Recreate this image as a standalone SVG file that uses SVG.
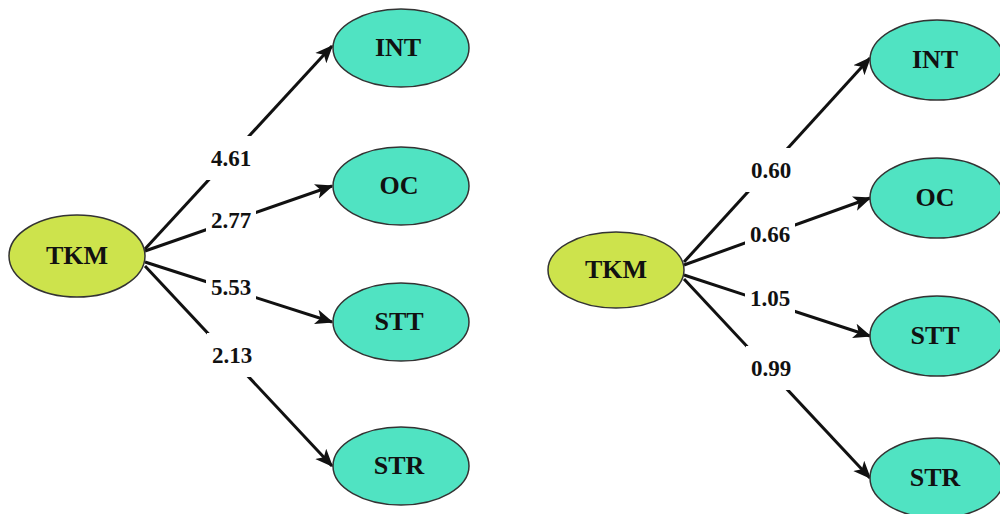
<svg xmlns="http://www.w3.org/2000/svg" width="1000" height="514" viewBox="0 0 1000 514">
<style>
.src{fill:#cde34c;stroke:#333;stroke-width:1.5}
.dst{fill:#50e3c2;stroke:#333;stroke-width:1.5}
.nt{font-family:"Liberation Serif","Times New Roman",serif;font-weight:bold;font-size:26px;text-anchor:middle;fill:#111}
.e{stroke:#111;stroke-width:3;fill:none}
.lb{font-family:"Liberation Serif","Times New Roman",serif;font-weight:bold;font-size:23px;text-anchor:middle;fill:#111}
.bg{fill:#fff}
</style>
<defs>
<marker id="ah" viewBox="0 0 12 10" refX="11" refY="5" markerWidth="6" markerHeight="6" orient="auto" markerUnits="strokeWidth">
<path d="M0,0 L12,5 L0,10 L3,5 z" fill="#111"/>
</marker>
</defs>
<g id="connectors">
<line class="e" x1="145" y1="249" x2="332" y2="46" marker-end="url(#ah)"/>
<line class="e" x1="145" y1="251" x2="332" y2="186" marker-end="url(#ah)"/>
<line class="e" x1="145" y1="262" x2="332" y2="322" marker-end="url(#ah)"/>
<line class="e" x1="145" y1="266" x2="332" y2="466" marker-end="url(#ah)"/>
<line class="e" x1="684" y1="262" x2="870" y2="58" marker-end="url(#ah)"/>
<line class="e" x1="684" y1="265" x2="870" y2="198" marker-end="url(#ah)"/>
<line class="e" x1="684" y1="275" x2="870" y2="336" marker-end="url(#ah)"/>
<line class="e" x1="684" y1="279" x2="870" y2="478" marker-end="url(#ah)"/>
<rect class="bg" x="206" y="136" width="50" height="44"/>
<text class="lb" x="231" y="166">4.61</text>
<rect class="bg" x="206" y="199" width="50" height="44"/>
<text class="lb" x="231" y="228">2.77</text>
<rect class="bg" x="206" y="266" width="50" height="44"/>
<text class="lb" x="231" y="295">5.53</text>
<rect class="bg" x="207" y="333" width="50" height="44"/>
<text class="lb" x="232" y="363">2.13</text>
<rect class="bg" x="746" y="148" width="50" height="44"/>
<text class="lb" x="771" y="178">0.60</text>
<rect class="bg" x="745" y="212" width="50" height="44"/>
<text class="lb" x="770" y="242">0.66</text>
<rect class="bg" x="745" y="278" width="50" height="44"/>
<text class="lb" x="770" y="306">1.05</text>
<rect class="bg" x="746" y="346" width="50" height="44"/>
<text class="lb" x="771" y="376">0.99</text>
</g>
<g id="tkm-left"><ellipse class="src" cx="77" cy="256" rx="68" ry="41"/><text class="nt" x="77" y="264">TKM</text></g>
<g id="int-left"><ellipse class="dst" cx="401" cy="48" rx="68" ry="39"/><text class="nt" x="398" y="56">INT</text></g>
<g id="oc-left"><ellipse class="dst" cx="401" cy="186" rx="68" ry="39"/><text class="nt" x="399" y="194">OC</text></g>
<g id="stt-left"><ellipse class="dst" cx="401" cy="322" rx="68" ry="39"/><text class="nt" x="399" y="330">STT</text></g>
<g id="str-left"><ellipse class="dst" cx="401" cy="466" rx="68" ry="39"/><text class="nt" x="399" y="474">STR</text></g>
<g id="tkm-right"><ellipse class="src" cx="616" cy="270" rx="68" ry="38"/><text class="nt" x="616" y="278">TKM</text></g>
<g id="int-right"><ellipse class="dst" cx="937" cy="60" rx="67" ry="40"/><text class="nt" x="935" y="68">INT</text></g>
<g id="oc-right"><ellipse class="dst" cx="937" cy="198" rx="67" ry="40"/><text class="nt" x="935" y="206">OC</text></g>
<g id="stt-right"><ellipse class="dst" cx="937" cy="336" rx="67" ry="40"/><text class="nt" x="935" y="344">STT</text></g>
<g id="str-right"><ellipse class="dst" cx="937" cy="478" rx="67" ry="40"/><text class="nt" x="935" y="486">STR</text></g>
</svg>
